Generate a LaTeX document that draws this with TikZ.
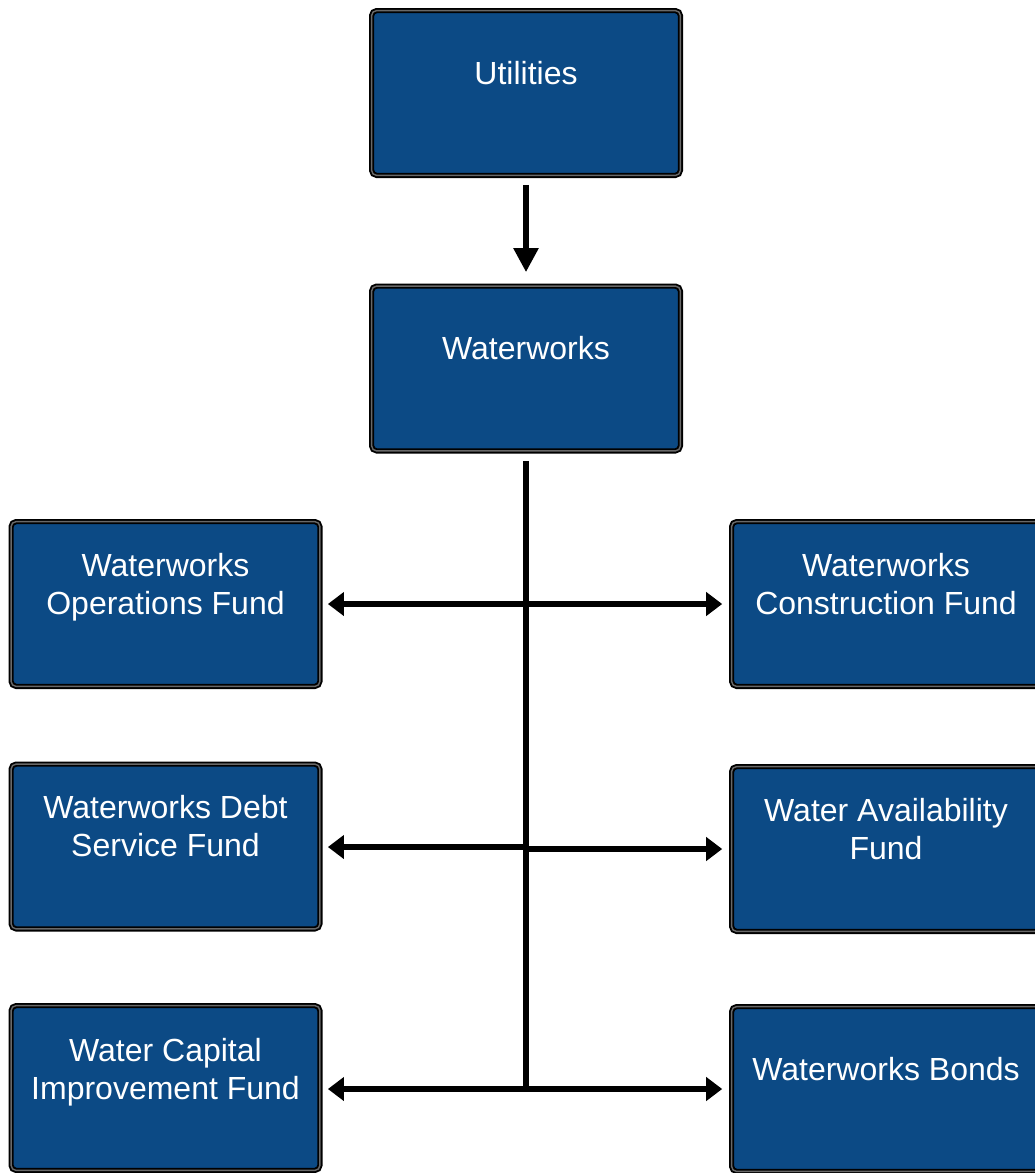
\documentclass[tikz,border=0pt]{standalone}
\usepackage{fontspec}
\setmainfont{Liberation Sans}
\usetikzlibrary{arrows.meta}
\definecolor{boxblue}{RGB}{12,74,133}
\definecolor{rimgray}{RGB}{105,105,105}
\begin{document}
\begin{tikzpicture}[x=1pt,y=-1pt,
  fundbox/.style={rectangle, rounded corners=5pt, fill=boxblue, draw=black,
    double=rimgray, line width=1.9pt, double distance=1.4pt,
    minimum width=308.8pt, minimum height=164.8pt, inner sep=0pt, outer sep=0pt},
  boxtext/.style={text=white, font=\fontsize{32}{38}\selectfont, align=center, yshift=20pt},
  harrow/.style={line width=5.5pt, -{Triangle[length=16pt,width=23pt]}},
  varrow/.style={line width=5.5pt, -{Triangle[length=24pt,width=24pt]}},
  trunk/.style={line width=5.5pt}
]
\useasboundingbox (0,0) rectangle (1034,1173);
\fill[white] (0,0) rectangle (1034,1173);

\node[fundbox, label={[boxtext]center:Utilities}] (util) at (526,93) {};
\node[fundbox, label={[boxtext]center:Waterworks}] (ww) at (526,368.5) {};

\node[fundbox, label={[boxtext, yshift=-3pt]center:Waterworks\\Operations Fund}] (ops) at (165.5,604) {};
\node[fundbox, label={[boxtext]center:Waterworks Debt\\Service Fund}] (debt) at (165.5,846.5) {};
\node[fundbox, label={[boxtext, yshift=-4pt]center:Water Capital\\Improvement Fund}] (cap) at (165.5,1088) {};

\node[fundbox, label={[boxtext]center:Waterworks\\Construction Fund}] (cons) at (886,604) {};
\node[fundbox, label={[boxtext]center:Water Availability\\Fund}] (avail) at (886,849) {};
\node[fundbox, label={[boxtext]center:Waterworks Bonds}] (bonds) at (886,1089) {};

\coordinate (t1) at (526,604);
\coordinate (t2l) at (526,847);
\coordinate (t2r) at (526,849);
\coordinate (t3) at (526,1089);

\draw[varrow, shorten <=9.4pt, shorten >=14pt] (util.south) -- (ww.north);
\draw[trunk, shorten <=10pt] (ww.south) -- (t3);

\draw[harrow, shorten >=8pt] (t1) -- (t1 -| ops.east);
\draw[harrow, shorten >=9.4pt] (t1) -- (t1 -| cons.west);
\draw[harrow, shorten >=8pt] (t2l) -- (t2l -| debt.east);
\draw[harrow, shorten >=9.4pt] (t2r) -- (t2r -| avail.west);
\draw[harrow, shorten >=8pt] (t3) -- (t3 -| cap.east);
\draw[harrow, shorten >=9.4pt] (t3) -- (t3 -| bonds.west);
\end{tikzpicture}
\end{document}
